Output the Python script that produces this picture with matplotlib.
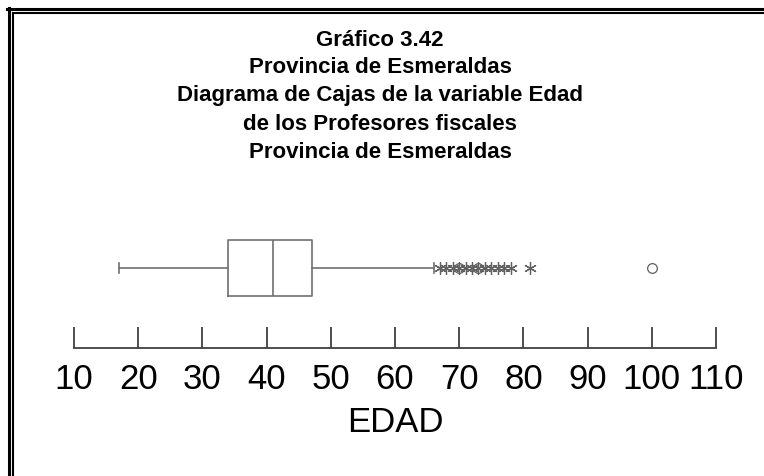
import matplotlib
matplotlib.use("Agg")
import matplotlib.pyplot as plt
from matplotlib.lines import Line2D

# ---- data ----
title_lines = ["Gráfico 3.42", "Provincia de Esmeraldas",
               "Diagrama de Cajas de la variable Edad",
               "de los Profesores fiscales", "Provincia de Esmeraldas"]
whisker_low = 17
q1 = 34
median = 41
q3 = 47
whisker_high = 66
outliers_star = [67, 68, 69, 70, 71, 72, 73, 74, 75, 76, 77, 78, 81]
outliers_circle = [70, 73, 100]
xticks = [10, 20, 30, 40, 50, 60, 70, 80, 90, 100, 110]
xlabel = "EDAD"

title_family = ["Liberation Sans", "DejaVu Sans"]
title_size = 16

W, H = 764, 476
fig = plt.figure(figsize=(W / 100, H / 100), dpi=100)
fig.patch.set_facecolor("white")

# axes: x 10 -> px 74, 110 -> px 716 ; axis line at y=348 px
ax_left, ax_right = 74, 716
ax_bottom, ax_top = 348, 228
ax = fig.add_axes([ax_left / W, 1 - ax_bottom / H,
                   (ax_right - ax_left) / W, (ax_bottom - ax_top) / H])
ax.set_xlim(10, 110)
ax.set_ylim(0, 1)
yc = (ax_bottom - 268) / (ax_bottom - ax_top)
bw = 56 / (ax_bottom - ax_top)

gray = "#707070"
stats = [dict(whislo=whisker_low, q1=q1, med=median, q3=q3,
              whishi=whisker_high, fliers=[])]
ax.bxp(stats, positions=[yc], widths=[bw], vert=False,
       showfliers=False, manage_ticks=False, capwidths=[0.09],
       boxprops=dict(color=gray, linewidth=1.2),
       medianprops=dict(color=gray, linewidth=1.2),
       whiskerprops=dict(color=gray, linewidth=1.2),
       capprops=dict(color=gray, linewidth=1.2))

ax.plot(outliers_star, [yc] * len(outliers_star), linestyle="none",
        marker=(6, 2, 0), markersize=9, markeredgecolor="#606060",
        markeredgewidth=0.9)
ax.plot(outliers_circle, [yc] * len(outliers_circle), linestyle="none",
        marker="o", markersize=7, markerfacecolor="none",
        markeredgecolor="#606060", markeredgewidth=0.9)

for s in ["top", "left", "right"]:
    ax.spines[s].set_visible(False)
ax.spines["bottom"].set_color("#404040")
ax.spines["bottom"].set_linewidth(1.3)
ax.set_yticks([])
ax.set_xticks(xticks)
ax.set_xticklabels([str(t) for t in xticks], fontsize=25,
                   family=["Liberation Sans", "DejaVu Sans"])
ax.tick_params(axis="x", direction="in", length=15, width=1.3,
               color="#404040", pad=11, labelcolor="black")
ax.set_xlabel(xlabel, fontsize=25, family=["Liberation Sans", "DejaVu Sans"],
              labelpad=7)
ax.patch.set_alpha(0)

# title block
for i, line in enumerate(title_lines):
    fig.text(0.5 - 2 / W, 1 - (40 + 28 * i) / H, line, ha="center", va="center",
             fontsize=title_size, fontweight="bold", family=title_family)

# double border at top and left
fig.add_artist(Line2D([7 / W, 1], [1 - 8.5 / H, 1 - 8.5 / H], color="black",
                      linewidth=2.2, transform=fig.transFigure))
fig.add_artist(Line2D([8.5 / W, 8.5 / W], [0, 1 - 7.5 / H], color="black",
                      linewidth=2.2, transform=fig.transFigure))
fig.add_artist(Line2D([12.5 / W, 1], [1 - 12.5 / H, 1 - 12.5 / H], color="black",
                      linewidth=1.5, transform=fig.transFigure))
fig.add_artist(Line2D([12.5 / W, 12.5 / W], [0, 1 - 12.5 / H], color="black",
                      linewidth=1.5, transform=fig.transFigure))

fig.savefig("out.png", dpi=100, facecolor="white")
